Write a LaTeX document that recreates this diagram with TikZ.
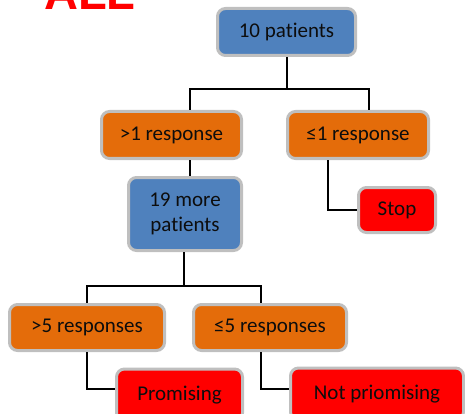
\documentclass[tikz,border=0pt]{standalone}
\usepackage{fontspec}
\setmainfont{Carlito}[Ligatures=NoCommon]
\newfontfamily\titlefont{Liberation Sans}
\usetikzlibrary{positioning, calc}
\definecolor{boxblue}{HTML}{4F81BD}
\definecolor{boxorange}{HTML}{E46C0A}
\definecolor{boxred}{HTML}{FF0000}
\definecolor{rimgray}{HTML}{BFBFBF}
\definecolor{inkdark}{HTML}{0D0D0D}

\begin{document}
\begin{tikzpicture}[x=1pt, y=-1pt,
  box/.style={draw=rimgray, line width=3pt, rounded corners=8pt,
    text=inkdark, font=\fontsize{21}{25}\selectfont, align=center, inner sep=0pt},
  link/.style={black, line width=2pt}]

% Canvas: pixel coordinates, y grows downwards
\useasboundingbox (0,0) rectangle (465,414);
\clip (0,0) rectangle (465,414);

% Title (cut off at the top)
\node[anchor=base west, text=boxred, font=\titlefont\bfseries\fontsize{47}{50}\selectfont, inner sep=0pt]
  (title) at (44,10) {ALL};

% First stage
\node[box, fill=boxblue, minimum width=138pt, minimum height=47pt] (p10) at (286.5,32) {10 patients};
\node[box, fill=boxorange, minimum width=140pt, minimum height=47pt] (gt1) at (171.5,135) {>1 response};
\node[box, fill=boxorange, minimum width=141pt, minimum height=47pt] (le1) at (358,135) {≤1 response};
\node[box, fill=boxred, minimum width=77pt, minimum height=45pt] (stop) at (397,210) {Stop};

% Second stage
\node[box, fill=boxblue, minimum width=113pt, minimum height=73pt] (p19) at (185,214) {19 more\\patients};
\node[box, fill=boxorange, minimum width=155pt, minimum height=46pt] (gt5) at (87,327.5) {>5 responses};
\node[box, fill=boxorange, minimum width=153pt, minimum height=46pt] (le5) at (270,327.5) {≤5 responses};

% Last boxes run past the lower edge
\node[box, fill=boxred, anchor=north, minimum width=126pt, minimum height=52pt] (prom) at (179.5,367.5) {Promising};
\node[box, fill=boxred, anchor=north, minimum width=173pt, minimum height=52pt] (notp) at (377,366.5) {Not priomising};

% Junctions
\coordinate (j1) at (286.5,89);
\coordinate (j2) at (184,286);

% Connectors
\draw[link] (p10.south) -- (j1) -| ([xshift=18.5pt]gt1.north);
\draw[link] (j1) -| ([xshift=11pt]le1.north);
\draw[link] ([xshift=-30pt]le1.south) |- (stop.west);
\draw[link] ([xshift=18.5pt]gt1.south) -- ([xshift=5pt]p19.north);
\draw[link] ([xshift=-1pt]p19.south) -- (j2) -| (gt5.north);
\draw[link] (j2) -| ([xshift=-9pt]le5.north);
\draw[link] (gt5.south) |- ([yshift=6pt]prom.west);
\draw[link] ([xshift=-9pt]le5.south) |- ([yshift=5pt]notp.west);

\end{tikzpicture}
\end{document}
